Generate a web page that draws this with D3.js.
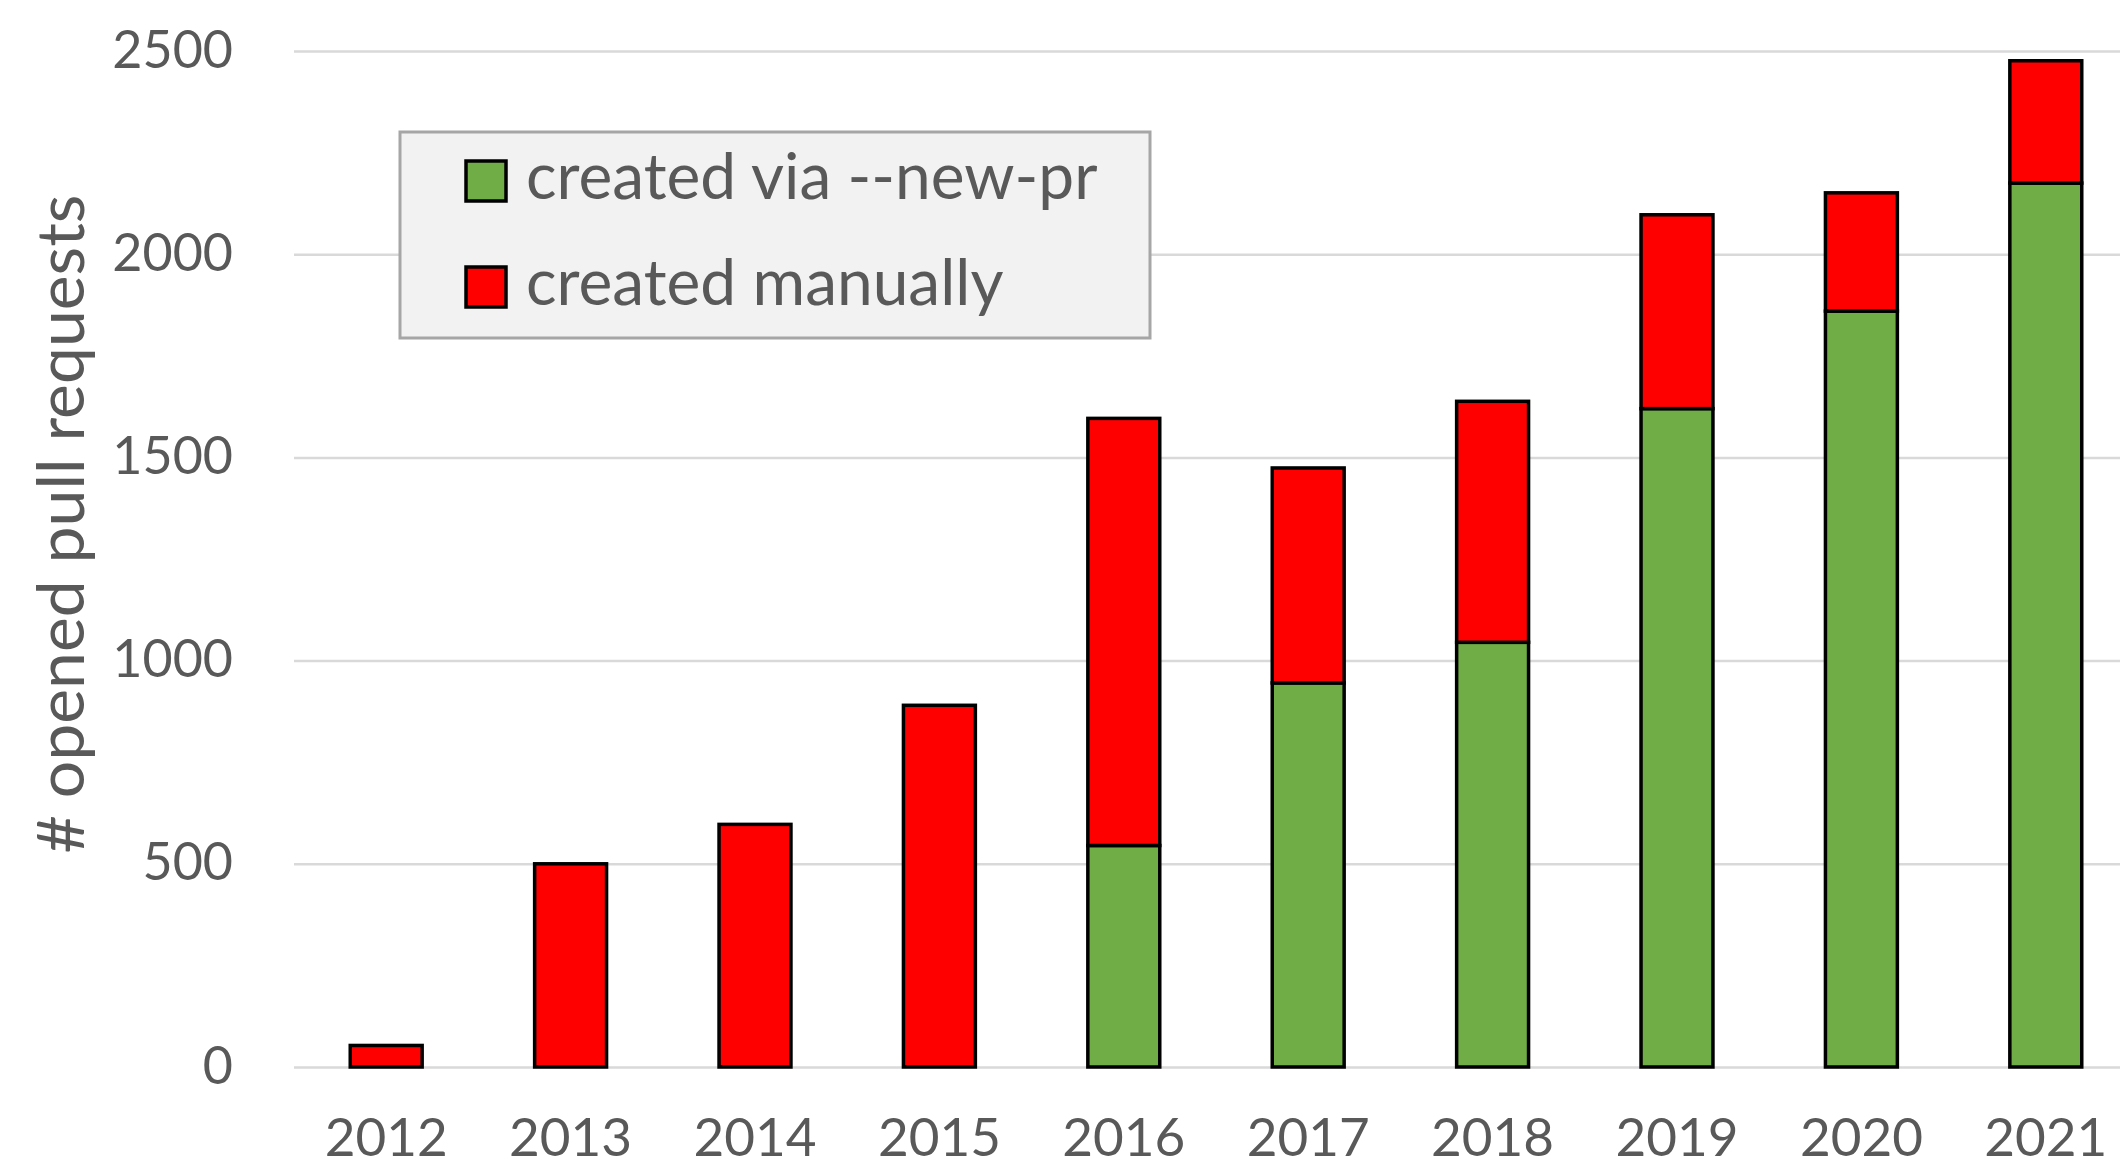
<!DOCTYPE html>
<html>
<head>
<meta charset="utf-8">
<script src="https://cdn.jsdelivr.net/npm/d3@7"></script>
<style>
  body { margin: 0; background: #fff; }
  text { font-family: Lato, "Open Sans", sans-serif; fill: #595959; }
</style>
</head>
<body>
<div id="chart"></div>
<script>
// chart data
var years = ["2012", "2013", "2014", "2015", "2016", "2017", "2018", "2019", "2020", "2021"];
var viaNewPr = [0, 0, 0, 0, 545, 945, 1045, 1620, 1860, 2175];
var manual = [53, 500, 597, 890, 1051, 529, 593, 477, 291, 301];
var yTicks = [0, 500, 1000, 1500, 2000, 2500];
var seriesKeys = ["newpr", "manual"];
var seriesLabels = ["created via --new-pr", "created manually"];
var seriesColors = ["#70ad47", "#ff0000"];

var svgWidth = 2120;
var svgHeight = 1167;

var margin = { top: 51, right: -18, bottom: 100, left: 294 };

var width = svgWidth - margin.left - margin.right;
var height = svgHeight - margin.top - margin.bottom;

var svg = d3.select("#chart")
  .append("svg")
  .attr("width", svgWidth)
  .attr("height", svgHeight);

var chartGroup = svg.append("g")
  .attr("transform", `translate(${margin.left}, ${margin.top})`);

// build rows for the stack
var rows = years.map(function(y, i) {
  return { year: y, newpr: viaNewPr[i], manual: manual[i] };
});

var stacked = d3.stack().keys(seriesKeys)(rows);

// scales
var xBandScale = d3.scaleBand()
  .domain(years)
  .range([0, width])
  .paddingInner(0.61)
  .paddingOuter(0.305);

var yLinearScale = d3.scaleLinear()
  .domain([0, 2500])
  .range([height, 0]);

// y axis with gridlines
var leftAxis = d3.axisLeft(yLinearScale)
  .tickValues(yTicks)
  .tickFormat(d3.format("d"))
  .tickSizeInner(-(width + 1))
  .tickSizeOuter(0)
  .tickPadding(61);

var yAxisGroup = chartGroup.append("g")
  .call(leftAxis);

yAxisGroup.select(".domain").remove();
yAxisGroup.selectAll(".tick line")
  .attr("stroke", "#d9d9d9")
  .attr("stroke-width", 2.5);
yAxisGroup.selectAll(".tick text")
  .attr("dy", "0.31em")
  .style("font-size", "52px")
  .style("fill", "#595959");

// x axis labels
var bottomAxis = d3.axisBottom(xBandScale)
  .tickSize(0)
  .tickPadding(0);

var xAxisGroup = chartGroup.append("g")
  .attr("transform", `translate(0, ${height})`)
  .call(bottomAxis);

xAxisGroup.select(".domain").remove();
xAxisGroup.selectAll(".tick text")
  .attr("y", 89)
  .attr("dy", 0)
  .style("font-size", "53px")
  .style("fill", "#595959");

// stacked bars
chartGroup.selectAll(".series")
  .data(stacked)
  .enter()
  .append("g")
  .attr("class", "series")
  .attr("fill", (d, i) => seriesColors[i])
  .selectAll("rect")
  .data(d => d.filter(p => p[1] - p[0] > 0))
  .enter()
  .append("rect")
  .attr("x", d => xBandScale(d.data.year))
  .attr("y", d => yLinearScale(d[1]))
  .attr("width", xBandScale.bandwidth())
  .attr("height", d => yLinearScale(d[0]) - yLinearScale(d[1]))
  .attr("stroke", "#000")
  .attr("stroke-width", 3.5);

// legend
var legend = svg.append("g")
  .attr("transform", "translate(400, 132)");

legend.append("rect")
  .attr("width", 750)
  .attr("height", 206)
  .attr("fill", "#f2f2f2")
  .attr("stroke", "#a6a6a6")
  .attr("stroke-width", 3);

var legendItems = legend.selectAll(".item")
  .data(seriesLabels)
  .enter()
  .append("g")
  .attr("class", "item")
  .attr("transform", (d, i) => `translate(66, ${29 + i * 106})`);

legendItems.append("rect")
  .attr("width", 40)
  .attr("height", 40)
  .attr("fill", (d, i) => seriesColors[i])
  .attr("stroke", "#000")
  .attr("stroke-width", 3.5);

legendItems.append("text")
  .attr("x", 60)
  .attr("y", 38)
  .style("font-size", "64px")
  .text(d => d);

// y axis title
chartGroup.append("text")
  .attr("transform", "rotate(-90)")
  .attr("x", 0 - (524 - margin.top))
  .attr("y", 84 - margin.left)
  .attr("text-anchor", "middle")
  .style("font-size", "66px")
  .text("# opened pull requests");
</script>
</body>
</html>
